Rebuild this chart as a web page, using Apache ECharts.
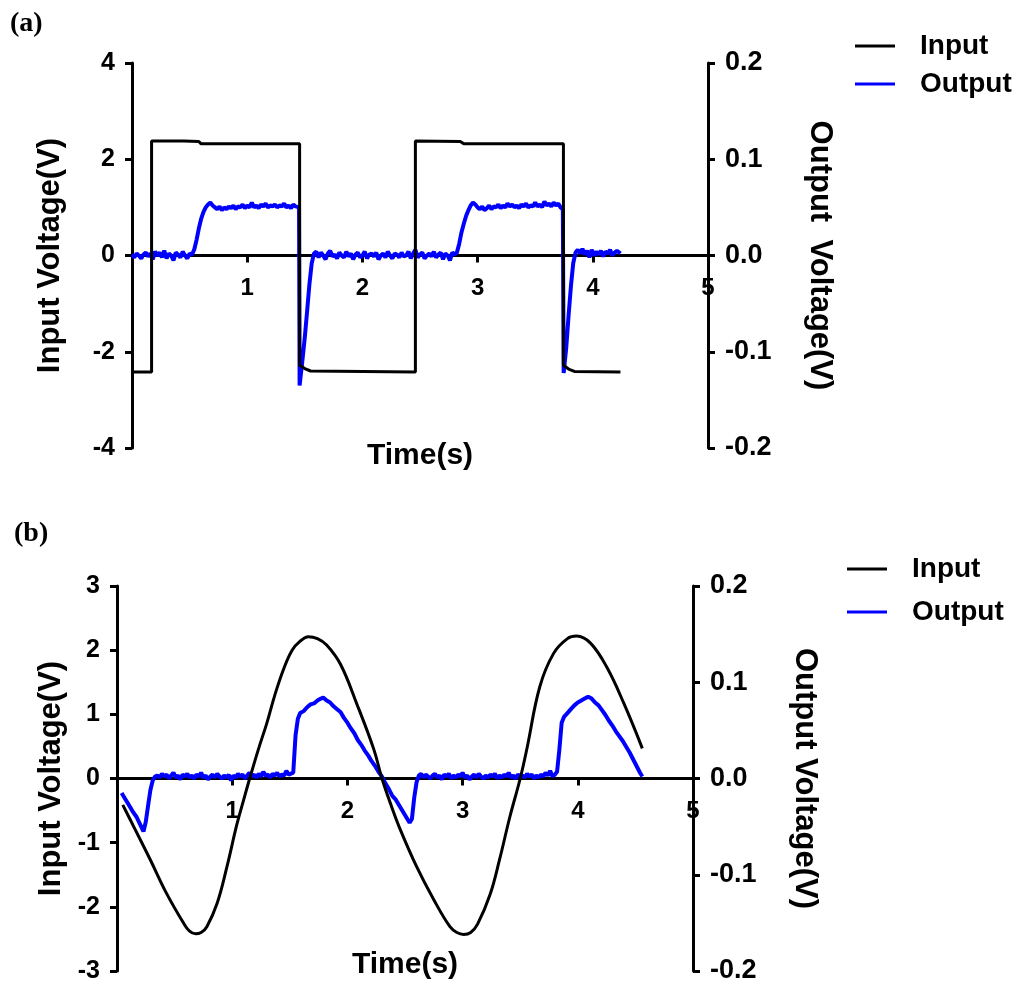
<!DOCTYPE html>
<html>
<head>
<meta charset="utf-8">
<script src="https://cdn.jsdelivr.net/npm/echarts@6/dist/echarts.min.js"></script>
<style>
  html, body { margin: 0; padding: 0; background: #fff; }
  #chart { width: 1031px; height: 981px; }
</style>
</head>
<body>
<div id="chart"></div>
<script>
// ticks
const timeTicks = [0, 1, 2, 3, 4, 5];
const inTicksA = [-4, -2, 0, 2, 4];
const inTicksB = [-3, -2, -1, 0, 1, 2, 3];
const outTicks = [-0.2, -0.1, 0, 0.1, 0.2];

// (a) square wave input, [time s, V]
const inputA = [
  [0, -2.42], [0.17, -2.42], [0.17, 2.38], [0.45, 2.38], [0.58, 2.37], [0.6, 2.32], [1.455, 2.32],
  [1.455, -2.28], [1.5, -2.35], [1.55, -2.4], [2.46, -2.42], [2.46, 2.38], [2.85, 2.37], [2.88, 2.32],
  [3.745, 2.32], [3.745, -2.28], [3.79, -2.36], [3.84, -2.41], [4.24, -2.42]
];

// (a) output, [time s, V]
const outputA = [
  [0, 0.001], [0.02, -0.002], [0.04, 0.002], [0.06, 0], [0.08, -0.003], [0.1, 0.001], [0.12, 0.003], [0.14, -0.001],
  [0.16, 0.002], [0.18, -0.004], [0.2, 0.004], [0.22, 0], [0.24, 0.003], [0.26, -0.002], [0.28, 0.005], [0.3, -0.003],
  [0.32, 0.002], [0.34, 0], [0.36, -0.005], [0.38, 0.003], [0.4, 0.001], [0.42, -0.002], [0.44, 0.004], [0.46, 0],
  [0.48, -0.003], [0.5, 0.002], [0.52, 0.001],
  [0.54, 0.006], [0.56, 0.016], [0.58, 0.028], [0.6, 0.038], [0.62, 0.045], [0.64, 0.05], [0.66, 0.053], [0.68, 0.055],
  [0.7, 0.052], [0.72, 0.05], [0.74, 0.048], [0.76, 0.051], [0.78, 0.047], [0.8, 0.05], [0.82, 0.048], [0.84, 0.051],
  [0.86, 0.049], [0.88, 0.052], [0.9, 0.048], [0.92, 0.051], [0.94, 0.05], [0.96, 0.053], [0.98, 0.049], [1.0, 0.052],
  [1.02, 0.05], [1.04, 0.055], [1.06, 0.05], [1.08, 0.052], [1.1, 0.049], [1.12, 0.053], [1.14, 0.051], [1.16, 0.054],
  [1.18, 0.05], [1.2, 0.052], [1.22, 0.051], [1.24, 0.053], [1.26, 0.05], [1.28, 0.052], [1.3, 0.051], [1.32, 0.054],
  [1.34, 0.05], [1.36, 0.052], [1.38, 0.049], [1.4, 0.053], [1.42, 0.051], [1.45, 0.05],
  [1.455, -0.135], [1.48, -0.108], [1.5, -0.085], [1.52, -0.058], [1.54, -0.03], [1.56, -0.008], [1.58, 0.002],
  [1.6, 0.004], [1.62, -0.002], [1.64, 0.003], [1.66, 0], [1.68, -0.004], [1.7, 0.002], [1.72, 0.005], [1.74, -0.001],
  [1.76, 0.001], [1.78, -0.003], [1.8, 0.003], [1.82, 0], [1.84, -0.002], [1.86, 0.004], [1.88, -0.001], [1.9, 0.002],
  [1.92, -0.004], [1.94, 0.001], [1.96, 0.003], [1.98, -0.002], [2.0, 0], [2.02, 0.004], [2.04, -0.003], [2.06, 0.001],
  [2.08, 0.002], [2.1, -0.001], [2.12, 0.003], [2.14, -0.004], [2.16, 0], [2.18, 0.002], [2.2, -0.002], [2.22, 0.004],
  [2.24, 0], [2.26, -0.003], [2.28, 0.002], [2.3, 0.001], [2.32, -0.002], [2.34, 0.003], [2.36, -0.001], [2.38, 0],
  [2.4, 0.004], [2.42, -0.003], [2.44, 0.002], [2.46, 0.006], [2.48, -0.002], [2.5, 0.001], [2.52, 0.003], [2.54, -0.003],
  [2.56, 0], [2.58, 0.002], [2.6, -0.001], [2.62, 0.004], [2.64, -0.002], [2.66, 0.001], [2.68, 0.003], [2.7, -0.004],
  [2.72, 0.002], [2.74, 0], [2.76, -0.005], [2.78, 0.003], [2.8, 0.001], [2.82, 0.003],
  [2.84, 0.012], [2.86, 0.024], [2.88, 0.033], [2.9, 0.041], [2.92, 0.047], [2.94, 0.052], [2.96, 0.055], [2.98, 0.053],
  [3.0, 0.05], [3.02, 0.048], [3.04, 0.051], [3.06, 0.047], [3.08, 0.049], [3.1, 0.052], [3.12, 0.048], [3.14, 0.051],
  [3.16, 0.05], [3.18, 0.053], [3.2, 0.049], [3.22, 0.052], [3.24, 0.05], [3.26, 0.054], [3.28, 0.051], [3.3, 0.053],
  [3.32, 0.05], [3.34, 0.052], [3.36, 0.049], [3.38, 0.053], [3.4, 0.051], [3.42, 0.054], [3.44, 0.05], [3.46, 0.052],
  [3.48, 0.051], [3.5, 0.055], [3.52, 0.051], [3.54, 0.053], [3.56, 0.05], [3.58, 0.056], [3.6, 0.052], [3.62, 0.054],
  [3.64, 0.051], [3.66, 0.055], [3.68, 0.052], [3.7, 0.054], [3.72, 0.05], [3.74, 0.048],
  [3.747, -0.122], [3.77, -0.095], [3.79, -0.062], [3.81, -0.032], [3.83, -0.008], [3.85, 0.003],
  [3.87, 0.006], [3.89, 0.002], [3.91, 0.007], [3.93, 0.001], [3.95, 0.005], [3.97, -0.002], [3.99, 0.006], [4.01, 0],
  [4.03, 0.004], [4.05, 0.001], [4.07, 0.005], [4.09, -0.001], [4.11, 0.004], [4.13, 0.002], [4.15, 0.006], [4.17, 0],
  [4.19, 0.003], [4.21, 0.005], [4.24, 0.002]
];

// (b) sine-like input, [time s, V]
const inputB = [
  [0.05, -0.41], [0.145, -0.75], [0.29, -1.27], [0.43, -1.79], [0.58, -2.26], [0.63, -2.38], [0.68, -2.42], [0.73, -2.4],
  [0.78, -2.31], [0.87, -1.94], [0.955, -1.37], [1.04, -0.72], [1.1, -0.33], [1.16, 0.05], [1.23, 0.47], [1.3, 0.86],
  [1.37, 1.3], [1.445, 1.7], [1.52, 2.0], [1.59, 2.14], [1.66, 2.21], [1.74, 2.18], [1.82, 2.08], [1.94, 1.78],
  [2.08, 1.17], [2.23, 0.45], [2.3, 0], [2.38, -0.42], [2.46, -0.8], [2.6, -1.37], [2.75, -1.89], [2.89, -2.31],
  [2.95, -2.4], [3.01, -2.43], [3.07, -2.4], [3.13, -2.27], [3.24, -1.8], [3.32, -1.27], [3.41, -0.6], [3.5, 0],
  [3.56, 0.48], [3.67, 1.43], [3.79, 1.95], [3.91, 2.18], [3.99, 2.22], [4.11, 2.11], [4.25, 1.74], [4.4, 1.17],
  [4.56, 0.47]
];

// (b) output, [time s, V]
const outputB = [
  [0.04, -0.015], [0.07, -0.021], [0.09, -0.025], [0.12, -0.031], [0.14, -0.035], [0.17, -0.04], [0.19, -0.045], [0.21, -0.05],
  [0.23, -0.055], [0.25, -0.045], [0.27, -0.028], [0.29, -0.012], [0.31, -0.002], [0.33, 0.002],
  [0.35, 0.003], [0.37, 0.001], [0.39, 0.005], [0.41, 0.002], [0.43, 0.004], [0.45, 0], [0.47, 0.003], [0.49, 0.006],
  [0.51, 0.001], [0.53, 0.003], [0.55, -0.001], [0.57, 0.004], [0.59, 0.002], [0.61, 0.005], [0.63, 0.001], [0.65, 0.003],
  [0.67, 0], [0.69, 0.004], [0.71, 0.002], [0.73, 0.006], [0.75, 0.001], [0.77, 0.003], [0.79, -0.001], [0.81, 0.002],
  [0.83, 0.004], [0.85, 0.001], [0.87, 0.005], [0.89, 0.002], [0.91, 0], [0.93, 0.003], [0.95, 0.001], [0.97, 0.004],
  [0.99, -0.002], [1.01, 0.003], [1.03, 0.001], [1.05, 0.005], [1.07, 0.002], [1.09, 0.004], [1.11, 0], [1.13, 0.003],
  [1.15, 0.006], [1.17, 0.002], [1.19, 0.004], [1.21, 0.001], [1.23, 0.005], [1.25, 0.002], [1.27, 0.007], [1.29, 0.003],
  [1.31, 0.004], [1.33, 0.001], [1.35, 0.005], [1.37, 0.003], [1.39, 0.006], [1.41, 0.002], [1.43, 0.004], [1.45, 0.003],
  [1.47, 0.008], [1.49, 0.004], [1.51, 0.005],
  [1.53, 0.006], [1.55, 0.045], [1.57, 0.062], [1.59, 0.068], [1.62, 0.07], [1.65, 0.074], [1.68, 0.077], [1.71, 0.078],
  [1.74, 0.081], [1.77, 0.083], [1.79, 0.084], [1.82, 0.081], [1.85, 0.079], [1.88, 0.075], [1.91, 0.072], [1.94, 0.069],
  [1.97, 0.063], [2.0, 0.058], [2.03, 0.052], [2.06, 0.047], [2.09, 0.04], [2.12, 0.035], [2.15, 0.029], [2.18, 0.024],
  [2.21, 0.018], [2.24, 0.013], [2.27, 0.007], [2.3, 0.002], [2.33, -0.005], [2.36, -0.011], [2.39, -0.018], [2.42, -0.022],
  [2.45, -0.028], [2.48, -0.034], [2.51, -0.04], [2.54, -0.046], [2.56, -0.042], [2.58, -0.02], [2.6, -0.004], [2.62, 0.003],
  [2.64, 0.005], [2.66, 0.001], [2.68, 0.004], [2.7, 0.002], [2.72, 0], [2.74, 0.003], [2.76, 0.005], [2.78, 0.001],
  [2.8, 0.003], [2.82, -0.001], [2.84, 0.004], [2.86, 0.002], [2.88, 0.005], [2.9, 0], [2.92, 0.003], [2.94, 0.001],
  [2.96, 0.004], [2.98, 0.002], [3.0, 0.006], [3.02, 0.001], [3.04, 0.003], [3.06, -0.001], [3.08, 0.002], [3.1, 0.004],
  [3.12, 0.001], [3.14, 0.005], [3.16, 0.002], [3.18, 0], [3.2, 0.003], [3.22, 0.001], [3.24, 0.004], [3.26, 0.002],
  [3.28, 0.005], [3.3, 0], [3.32, 0.003], [3.34, 0.001], [3.36, 0.004], [3.38, 0.002], [3.4, 0.006], [3.42, 0.001],
  [3.44, 0.003], [3.46, 0], [3.48, 0.004], [3.5, 0.002], [3.52, 0.003], [3.54, 0.001], [3.56, 0.005], [3.58, 0.002],
  [3.6, 0.004], [3.62, 0], [3.64, 0.003], [3.66, 0.001], [3.68, 0.004], [3.7, 0.002], [3.72, 0.006], [3.74, 0.003],
  [3.76, 0.008], [3.78, 0.002], [3.8, 0.004], [3.82, 0.007],
  [3.84, 0.03], [3.86, 0.058], [3.88, 0.064], [3.91, 0.068], [3.94, 0.072], [3.97, 0.076], [4.0, 0.079], [4.03, 0.081],
  [4.06, 0.083], [4.09, 0.085], [4.12, 0.083], [4.15, 0.079], [4.18, 0.076], [4.21, 0.071], [4.24, 0.066], [4.27, 0.06],
  [4.3, 0.055], [4.33, 0.049], [4.36, 0.044], [4.39, 0.039], [4.42, 0.033], [4.45, 0.027], [4.48, 0.02], [4.51, 0.013],
  [4.54, 0.006], [4.56, 0.002]
];

const chart = echarts.init(document.getElementById('chart'));
const FONT = '"Liberation Sans", Arial, sans-serif';
const AXIS_W = 3;
const PLOT_H = 385;

// x axis sits on the zero line: shift it up by half the plot height
function xAxisFor(grid, nameGap) {
  return {
    type: 'value', gridIndex: grid,
    min: timeTicks[0], max: timeTicks[timeTicks.length - 1], interval: 1,
    offset: -PLOT_H / 2,
    name: 'Time(s)', nameLocation: 'middle', nameGap: nameGap,
    nameTextStyle: { color: '#000', fontFamily: FONT, fontWeight: 'bold', fontSize: 30 },
    axisLine: { onZero: false, lineStyle: { color: '#000', width: AXIS_W } },
    axisTick: { length: 7, lineStyle: { color: '#000', width: AXIS_W } },
    axisLabel: { showMinLabel: false, margin: 21, color: '#000', fontFamily: FONT, fontWeight: 'bold', fontSize: 24 },
    splitLine: { show: false }
  };
}

function yAxisFor(grid, ticks, side, name, nameGap, fmt) {
  return {
    type: 'value', gridIndex: grid, position: side,
    min: ticks[0], max: ticks[ticks.length - 1], interval: +(ticks[1] - ticks[0]).toFixed(3),
    name: name, nameLocation: 'middle', nameGap: nameGap, nameRotate: side === 'left' ? 90 : -90,
    nameTextStyle: { color: '#000', fontFamily: FONT, fontWeight: 'bold', fontSize: 31 },
    axisLine: { show: true, onZero: false, lineStyle: { color: '#000', width: AXIS_W } },
    axisTick: { show: true, length: 7, lineStyle: { color: '#000', width: AXIS_W } },
    axisLabel: {
      margin: 17, color: '#000', fontFamily: FONT, fontWeight: 'bold',
      fontSize: side === 'left' ? 25 : 27, formatter: fmt
    },
    splitLine: { show: false }
  };
}

const outFmt = v => (Math.abs(v) < 1e-9 ? 0 : v).toFixed(1);

function lineSeries(name, x, y, data, color, width, smooth) {
  return {
    name: name, type: 'line', xAxisIndex: x, yAxisIndex: y, data: data,
    symbol: 'none', animation: false, smooth: smooth || false,
    lineStyle: { color: color, width: width }, itemStyle: { color: color },
    z: name === 'Input' ? 3 : 2
  };
}

function legendFor(left, top, gap) {
  return {
    data: ['Input', 'Output'], orient: 'vertical', left: left, top: top,
    icon: 'rect', itemWidth: 40, itemHeight: 3, itemGap: gap, selectedMode: false,
    textStyle: { color: '#000', fontFamily: FONT, fontWeight: 'bold', fontSize: 28, padding: [0, 0, 0, 20] }
  };
}

const option = {
  backgroundColor: '#fff',
  animation: false,
  legend: [legendFor(850, 27, 10), legendFor(842, 550, 15)],
  grid: [
    { left: 132, right: 1031 - 708, top: 63, height: PLOT_H, outerBoundsMode: 'none', containLabel: false },
    { left: 117, right: 1031 - 693, top: 586, height: PLOT_H, outerBoundsMode: 'none', containLabel: false }
  ],
  xAxis: [xAxisFor(0, 185), xAxisFor(1, 171)],
  yAxis: [
    yAxisFor(0, inTicksA, 'left', 'Input Voltage(V)', 66, v => v),
    yAxisFor(0, outTicks, 'right', 'Output  Voltage(V)', 96, outFmt),
    yAxisFor(1, inTicksB, 'left', 'Input Voltage(V)', 48, v => v),
    yAxisFor(1, outTicks, 'right', 'Output Voltage(V)', 96, outFmt)
  ],
  graphic: [
    { type: 'text', left: 10, top: 10, style: { text: '(a)', fill: '#000', font: 'bold 28px "Liberation Serif", "Times New Roman", serif' } },
    { type: 'text', left: 14, top: 520, style: { text: '(b)', fill: '#000', font: 'bold 28px "Liberation Serif", "Times New Roman", serif' } }
  ],
  series: [
    lineSeries('Output', 0, 1, outputA, '#0000ff', 4),
    lineSeries('Input', 0, 0, inputA, '#000000', 3),
    lineSeries('Output', 1, 3, outputB, '#0000ff', 4),
    lineSeries('Input', 1, 2, inputB, '#000000', 3, 0.4)
  ]
};

chart.setOption(option);
</script>
</body>
</html>
